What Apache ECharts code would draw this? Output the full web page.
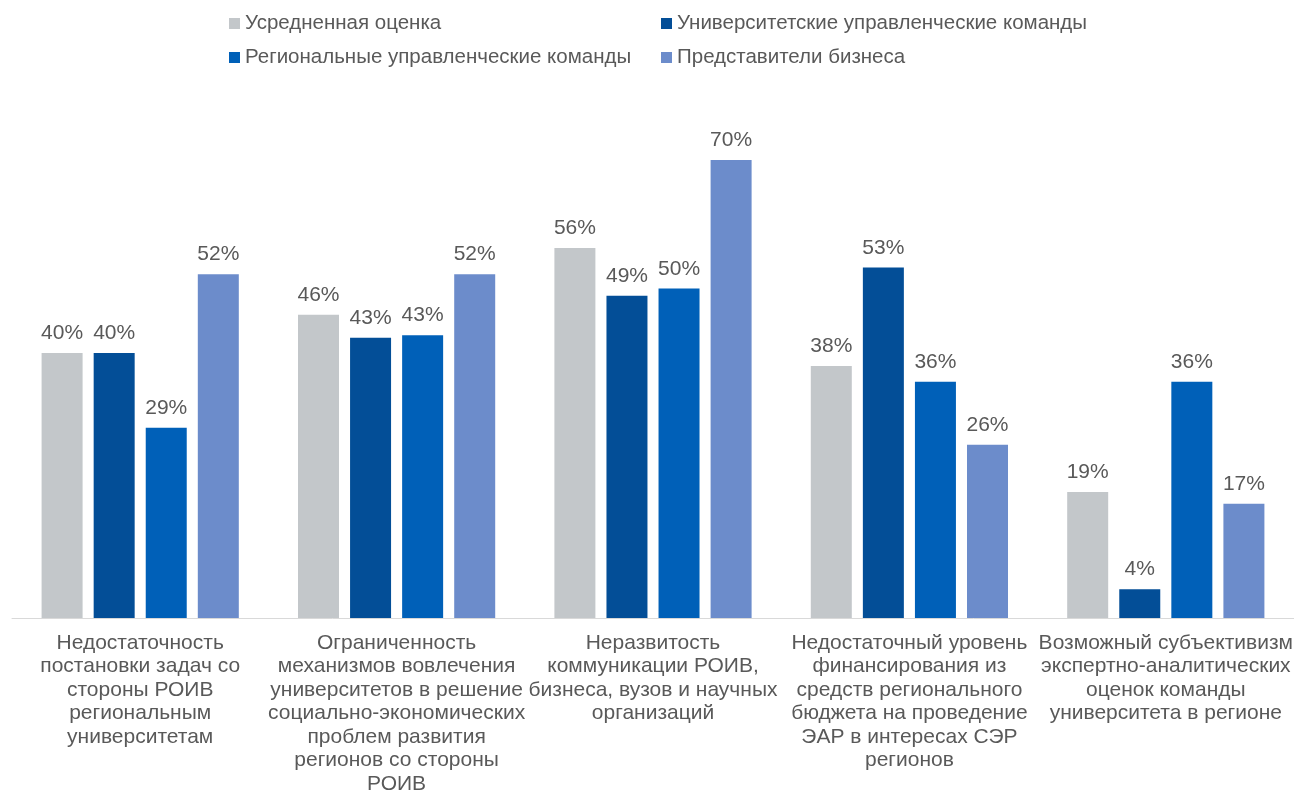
<!DOCTYPE html>
<html><head><meta charset="utf-8">
<script src="https://cdn.jsdelivr.net/npm/echarts@6/dist/echarts.min.js"></script>
<style>html,body{margin:0;padding:0;background:#fff}#c{width:1294px;height:792px}</style>
</head><body><div id="c"></div>
<script>
const categories = [
  "Недостаточность\nпостановки задач со\nстороны РОИВ\nрегиональным\nуниверситетам",
  "Ограниченность\nмеханизмов вовлечения\nуниверситетов в решение\nсоциально-экономических\nпроблем развития\nрегионов со стороны\nРОИВ",
  "Неразвитость\nкоммуникации РОИВ,\nбизнеса, вузов и научных\nорганизаций",
  "Недостаточный уровень\nфинансирования из\nсредств регионального\nбюджета на проведение\nЭАР в интересах СЭР\nрегионов",
  "Возможный субъективизм\nэкспертно-аналитических\nоценок команды\nуниверситета в регионе"
];
const seriesNames = ["Усредненная оценка","Университетские управленческие команды","Региональные управленческие команды","Представители бизнеса"];
const avgScore = [40.4, 46.2, 56.4, 38.4, 19.2];
const univTeams = [40.4, 42.7, 49.1, 53.4, 4.4];
const regionTeams = [29.0, 43.1, 50.2, 36.0, 36.0];
const business = [52.4, 52.4, 69.8, 26.4, 17.4];
const colors = ["#C3C7CA","#034E97","#0060B8","#6C8CCB"];
const values = [avgScore, univTeams, regionTeams, business];
const txt = "#595959";
const font = "Liberation Sans, Arial, sans-serif";
const legendPos = [[229,13],[661,13],[229,47],[661,47]];
const chart = echarts.init(document.getElementById('c'));
chart.setOption({
  animation:false,
  textStyle:{fontFamily:font},
  legend: seriesNames.map((n,i)=>({
    data:[n], left:legendPos[i][0], top:legendPos[i][1],
    icon:'rect', itemWidth:11, itemHeight:11, padding:0,
    textStyle:{color:txt, fontSize:20.5, fontFamily:font}
  })),
  grid:{left:12, right:0, top:93, bottom:174, containLabel:false, outerBoundsMode:'none'},
  xAxis:{type:'category', data:categories,
    axisLine:{lineStyle:{color:'#D9D9D9', width:1}}, axisTick:{show:false},
    axisLabel:{color:txt, fontSize:21, lineHeight:23.5, margin:13, interval:0, fontFamily:font}},
  yAxis:{type:'value', min:0, max:80, show:false, splitLine:{show:false}},
  series: values.map((v,i)=>({
    name:seriesNames[i], type:'bar', data:v, barWidth:41, barGap:'27%',
    itemStyle:{color:colors[i]},
    label:{show:true, position:'top', distance:9, color:txt, fontSize:21, fontFamily:font,
      formatter:p=>Math.round(p.value)+'%'}
  }))
});
</script></body></html>
